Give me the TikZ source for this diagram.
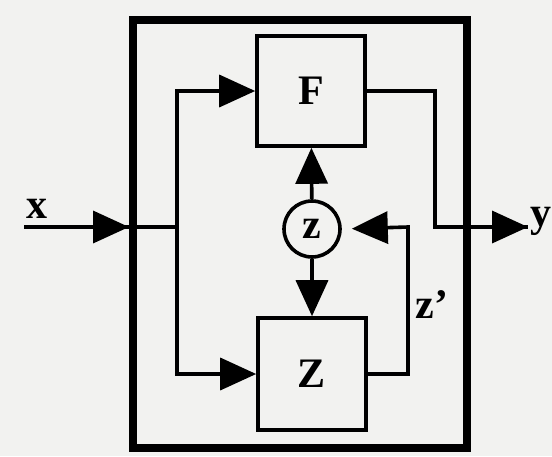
\documentclass[tikz,border=0pt]{standalone}
\usepackage{fontspec}
\setmainfont{Liberation Serif}
\usetikzlibrary{arrows.meta}
\definecolor{paper}{RGB}{242, 242, 240}

\begin{document}
\begin{tikzpicture}[
    x=0.5pt, y=-0.5pt,
    font=\fontsize{21pt}{23pt}\selectfont\bfseries,
    box/.style={draw, line width=1.8pt, minimum width=54pt, minimum height=55pt, inner sep=0pt},
    state/.style={draw, circle, line width=1.8pt, minimum size=28pt, inner sep=0pt},
    frame/.style={draw, line width=4pt, minimum width=167pt, minimum height=214pt},
    wire/.style={line width=1.8pt},
    arrow/.style={line width=1.8pt, -{Triangle[length=18pt, width=16pt]}}
]
    % Paper
    \useasboundingbox[fill=paper] (0,0) rectangle (552,456);

    % System frame
    \node[frame] (sys) at (300,234) {};

    % Blocks
    \node[box] (F) at (311,91) {F};
    \node[box, minimum height=56pt] (Z) at (312,374) {Z};
    \node[state] (z) at (312,229) {z};

    % Ports and bends
    \coordinate (xin) at (24,227);
    \coordinate (yout) at (528,227);
    \coordinate (jl) at (177,227);
    \coordinate (jf) at (435,227);
    \coordinate (jz) at (408,227);

    % Input
    \draw[wire] (xin) -- (jl);
    \draw[arrow] (xin) -- (sys.west |- xin);
    \draw[arrow] (jl) |- (F.west);
    \draw[arrow] (jl) |- (Z.west);

    % Output
    \draw[wire] (F.east) -| (jf) -- (yout);
    \draw[arrow] (jf) -- (yout);

    % State
    \draw[arrow] (z) -- (F);
    \draw[arrow] (z) -- (Z);
    \draw[arrow, shorten >=5pt] (Z.east) -| (jz) -- (z.east);

    % Labels
    \node (xl) at (37,209) {x};
    \node (yl) at (541,221) {y};
    \node (zl) at (432,305) {z'};
\end{tikzpicture}
\end{document}
